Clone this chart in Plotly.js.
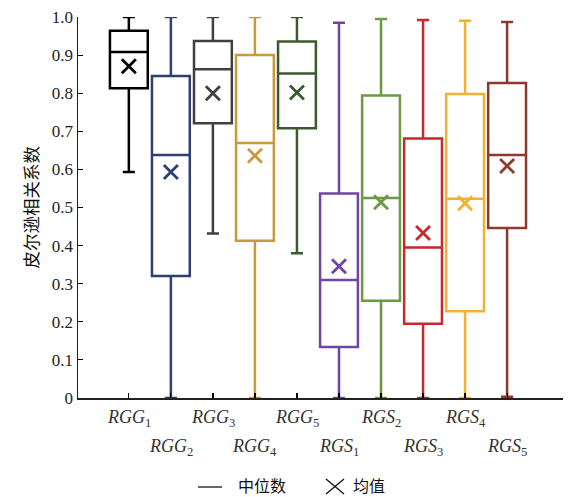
<!DOCTYPE html>
<html><head><meta charset="utf-8">
<script src="https://cdn.plot.ly/plotly-3.0.1.min.js"></script>
<style>body{margin:0;background:#fff}#chart{width:570px;height:497px}</style>
</head><body><div id="chart"></div>
<script>
const categories = ['RGG1','RGG2','RGG3','RGG4','RGG5','RGS1','RGS2','RGS3','RGS4','RGS5'];
const tickMain = ['RGG','RGG','RGG','RGG','RGG','RGS','RGS','RGS','RGS','RGS'];
const tickSub = ['1','2','3','4','5','1','2','3','4','5'];
const upperWhisker = [1.0, 1.0, 1.0, 1.0, 1.0, 0.985, 0.995, 0.992, 0.99, 0.987];
const q3 = [0.964, 0.845, 0.937, 0.90, 0.936, 0.537, 0.794, 0.681, 0.798, 0.827];
const median = [0.908, 0.638, 0.863, 0.669, 0.852, 0.31, 0.525, 0.395, 0.523, 0.638];
const q1 = [0.813, 0.32, 0.721, 0.413, 0.708, 0.134, 0.255, 0.195, 0.228, 0.446];
const lowerWhisker = [0.593, 0.0, 0.432, 0.0, 0.38, 0.0, 0.0, 0.0, 0.0, 0.003];
const mean = [0.871, 0.593, 0.80, 0.636, 0.802, 0.346, 0.514, 0.433, 0.511, 0.609];
const colors = ['#000000','#2E3F73','#404040','#C9993A','#3D5A2E','#7045A5','#6B9A45','#C8282E','#F2B133','#8C3A2C'];
const yTicks = [0,0.1,0.2,0.3,0.4,0.5,0.6,0.7,0.8,0.9,1.0];
const yTickText = ['0','0.1','0.2','0.3','0.4','0.5','0.6','0.7','0.8','0.9','1.0'];
const legendLabels = ['中位数', '均值'];

const serif = 'Liberation Serif';
const cjk = 'Noto Sans CJK SC';

const traces = [];
categories.forEach((c, i) => {
  traces.push({
    type: 'box', x: [c], q1: [q1[i]], median: [median[i]], q3: [q3[i]],
    lowerfence: [lowerWhisker[i]], upperfence: [upperWhisker[i]],
    width: 0.9, whiskerwidth: 0.32, boxpoints: false,
    line: {color: colors[i], width: 2.5}, fillcolor: 'rgba(255,255,255,0)',
    hoverinfo: 'skip', showlegend: false
  });
  traces.push({
    type: 'scatter', mode: 'markers', x: [c], y: [mean[i]],
    marker: {symbol: 'x-thin', size: 14, color: colors[i], line: {color: colors[i], width: 2.8}},
    showlegend: false, hoverinfo: 'skip'
  });
});

const px2x = p => (p - 78) / 485;
const px2y = p => (398 - p) / 381;

const annotations = categories.map((c, i) => ({
  x: c, xref: 'x', yref: 'paper', y: i % 2 === 0 ? -0.055 : -0.13,
  text: '<i>' + tickMain[i] + '</i><sub>' + tickSub[i] + '</sub>',
  showarrow: false, xanchor: 'center', yanchor: 'middle',
  font: {family: serif, size: 18, color: '#333'}
}));
annotations.push({
  xref: 'paper', yref: 'paper', x: px2x(30), y: 0.5, textangle: -90,
  xanchor: 'center', yanchor: 'middle',
  text: '皮尔逊相关系数', showarrow: false,
  font: {family: cjk, size: 17.5, color: '#111'}
});
annotations.push({
  xref: 'paper', yref: 'paper', x: px2x(262), y: px2y(485), text: legendLabels[0],
  showarrow: false, xanchor: 'center', yanchor: 'middle',
  font: {family: cjk, size: 16, color: '#111'}
});
annotations.push({
  xref: 'paper', yref: 'paper', x: px2x(369), y: px2y(485), text: legendLabels[1],
  showarrow: false, xanchor: 'center', yanchor: 'middle',
  font: {family: cjk, size: 16, color: '#111'}
});

const shapes = [
  {type: 'line', xref: 'paper', yref: 'paper', x0: px2x(198), x1: px2x(222), y0: px2y(487), y1: px2y(487), line: {color: '#111', width: 1.3}},
  {type: 'line', xref: 'paper', yref: 'paper', x0: px2x(326), x1: px2x(344), y0: px2y(479), y1: px2y(494), line: {color: '#111', width: 1.3}},
  {type: 'line', xref: 'paper', yref: 'paper', x0: px2x(326), x1: px2x(344), y0: px2y(494), y1: px2y(479), line: {color: '#111', width: 1.3}}
];

const layout = {
  width: 570, height: 497,
  margin: {l: 78, r: 7, t: 17, b: 99},
  paper_bgcolor: '#fff', plot_bgcolor: '#fff',
  showlegend: false,
  xaxis: {
    type: 'category', range: [-1.21, 10.33], showticklabels: false,
    ticks: 'inside', ticklen: 5, tickwidth: 1.2, tickcolor: '#000',
    showline: true, linecolor: '#222', linewidth: 1.5, showgrid: false, zeroline: false
  },
  yaxis: {
    range: [0, 1.0], tickvals: yTicks, ticktext: yTickText,
    ticks: 'inside', ticklen: 5, tickwidth: 1.2, tickcolor: '#000',
    showline: true, linecolor: '#222', linewidth: 1.5, showgrid: false, zeroline: false,
    tickfont: {family: serif, size: 17, color: '#222'}
  },
  annotations: annotations,
  shapes: shapes
};
Plotly.newPlot('chart', traces, layout, {displayModeBar: false, staticPlot: true});
</script></body></html>
